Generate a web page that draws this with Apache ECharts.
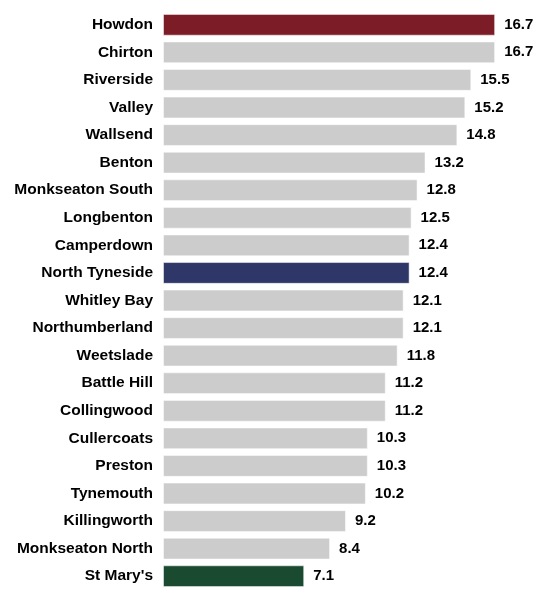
<!DOCTYPE html>
<html><head><meta charset="utf-8">
<script src="https://cdn.jsdelivr.net/npm/echarts@6/dist/echarts.min.js"></script>
<style>html,body{margin:0;padding:0;background:#fff}#c{width:536px;height:590px}</style>
</head><body><div id="c"></div>
<script>
const categories = ["Howdon","Chirton","Riverside","Valley","Wallsend","Benton","Monkseaton South","Longbenton","Camperdown","North Tyneside","Whitley Bay","Northumberland","Weetslade","Battle Hill","Collingwood","Cullercoats","Preston","Tynemouth","Killingworth","Monkseaton North","St Mary's"];
const values = [16.7,16.7,15.5,15.2,14.8,13.2,12.8,12.5,12.4,12.4,12.1,12.1,11.8,11.2,11.2,10.3,10.3,10.2,9.2,8.4,7.1];
const highlight = {"Howdon":"#7B1C26","North Tyneside":"#2E3767","St Mary's":"#1A4A30"};
const baseColor = "#CCCCCC";

const chart = echarts.init(document.getElementById('c'));
chart.setOption({
  animation:false,
  grid:{left:163,right:15,top:11,height:585,containLabel:false},
  xAxis:{type:'value',min:0,max:18,show:false},
  yAxis:{type:'category',data:categories,inverse:true,
    axisLine:{show:false},axisTick:{show:false},
    axisLabel:{color:'#000',fontFamily:'Liberation Sans, Arial',fontWeight:'bold',fontSize:15.5,margin:10}},
  series:[{type:'bar',barCategoryGap:'21%',
    data:values.map((v,i)=>({value:v,itemStyle:{color:highlight[categories[i]]||baseColor,borderColor:'rgba(255,255,255,0.5)',borderWidth:1}})),
    label:{show:true,position:'right',distance:9,color:'#000',fontFamily:'Liberation Sans, Arial',fontWeight:'bold',fontSize:15,formatter:p=>p.value.toFixed(1)}
  }]
});
</script></body></html>
